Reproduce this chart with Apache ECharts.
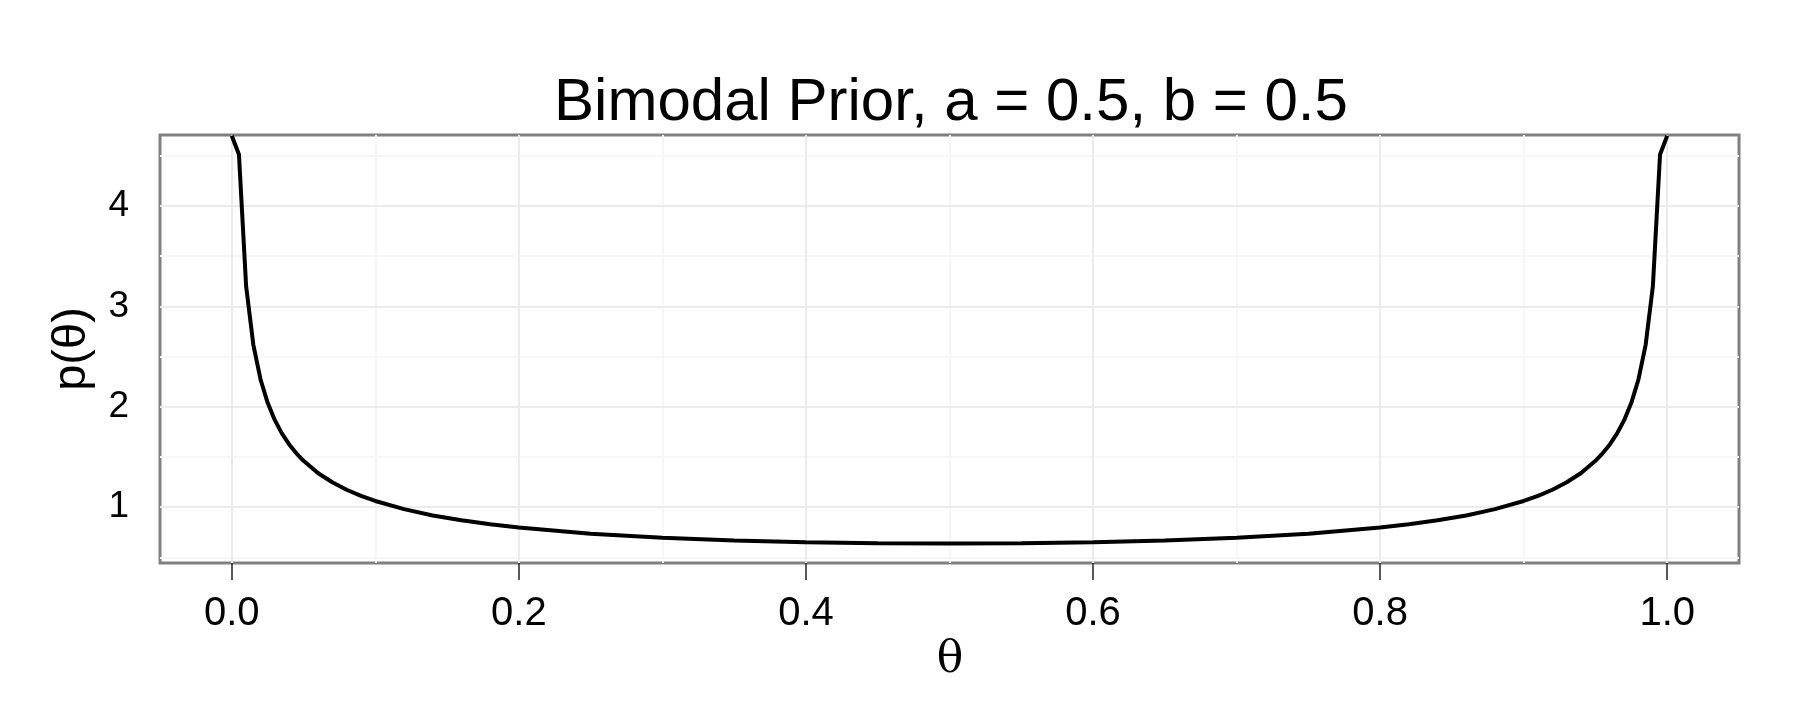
<!DOCTYPE html>
<html>
<head>
<meta charset="utf-8">
<script src="https://cdn.jsdelivr.net/npm/echarts@6/dist/echarts.min.js"></script>
<style>html,body{margin:0;padding:0;background:#fff}#c{width:1800px;height:720px}</style>
</head>
<body>
<div id="c"></div>
<script>
// theta grid and density values (the ends run off the top of the panel)
const thetaValues = [0, 0.005, 0.01, 0.015, 0.02, 0.025, 0.03, 0.035, 0.04, 0.045, 0.05, 0.06, 0.07, 0.08, 0.09, 0.10, 0.12, 0.14, 0.16, 0.18, 0.20, 0.25, 0.30, 0.35, 0.40, 0.45, 0.50,
  0.55, 0.60, 0.65, 0.70, 0.75, 0.80, 0.82, 0.84, 0.86, 0.88, 0.90, 0.91, 0.92, 0.93, 0.94, 0.95, 0.955, 0.96, 0.965, 0.97, 0.975, 0.98, 0.985, 0.99, 0.995, 1.0];
const densityValues = [4.70, 4.513, 3.199, 2.619, 2.274, 2.039, 1.866, 1.732, 1.624, 1.536, 1.461, 1.340, 1.248, 1.173, 1.112, 1.061, 0.980, 0.917, 0.868, 0.829, 0.796, 0.735, 0.695, 0.667, 0.650, 0.640, 0.637,
  0.640, 0.650, 0.667, 0.695, 0.735, 0.796, 0.829, 0.868, 0.917, 0.980, 1.061, 1.112, 1.173, 1.248, 1.340, 1.461, 1.536, 1.624, 1.732, 1.866, 2.039, 2.274, 2.619, 3.199, 4.513, 4.70];
const xTickValues = [0, 0.2, 0.4, 0.6, 0.8, 1.0];
const xTickLabels = ['0.0', '0.2', '0.4', '0.6', '0.8', '1.0'];
const xMinorValues = [0.1, 0.3, 0.5, 0.7, 0.9];
const yTickValues = [1, 2, 3, 4];
const yMinorValues = [0.5, 1.5, 2.5, 3.5, 4.5];
const chartTitle = 'Bimodal Prior, a = 0.5, b = 0.5';

const points = thetaValues.map((t, i) => [t, densityValues[i]]);
const chart = echarts.init(document.getElementById('c'), null, {renderer: 'canvas'});

const gridLineSeries = (xs, ys, color, z) => ({
  type: 'line', data: [], silent: true, z: z,
  markLine: {
    silent: true, symbol: 'none', animation: false,
    label: {show: false},
    lineStyle: {color: color, width: 2, type: 'solid'},
    data: xs.map(v => ({xAxis: v})).concat(ys.map(v => ({yAxis: v})))
  }
});

chart.setOption({
  animation: false,
  backgroundColor: '#ffffff',
  title: {
    text: chartTitle, left: 946, top: 68, textAlign: 'center',
    textStyle: {fontFamily: 'Liberation Sans', fontWeight: 'normal', fontSize: 60, color: '#000'}
  },
  grid: {left: 160, right: 61, top: 135, bottom: 157, show: true, borderColor: '#808080', borderWidth: 3, backgroundColor: '#fff'},
  xAxis: {
    type: 'value', min: -0.05, max: 1.05,
    axisLine: {show: false},
    axisTick: {show: true, length: 17, lineStyle: {color: '#222', width: 1.5}, customValues: xTickValues},
    axisLabel: {show: true, margin: 31, fontFamily: 'Liberation Sans', fontSize: 40, color: '#000',
      customValues: xTickValues,
      formatter: v => { const i = xTickValues.findIndex(t => Math.abs(t - v) < 1e-9); return i >= 0 ? xTickLabels[i] : ''; }},
    splitLine: {show: false}
  },
  yAxis: {
    type: 'value', min: 0.443, max: 4.707,
    axisLine: {show: false},
    axisTick: {show: true, length: 17, lineStyle: {color: '#222', width: 1.5}, customValues: yTickValues},
    axisLabel: {show: true, margin: 31, fontFamily: 'Liberation Sans', fontSize: 37, color: '#000',
      customValues: yTickValues, formatter: v => String(v)},
    splitLine: {show: false}
  },
  graphic: [
    {type: 'text', x: 950, y: 661, style: {text: 'θ', font: '44px "DejaVu Serif"', fill: '#000', textAlign: 'center', textVerticalAlign: 'middle'}},
    {type: 'text', x: 72, y: 349, rotation: Math.PI / 2, style: {text: 'p(θ)', font: '47px "Liberation Sans"', fill: '#000', textAlign: 'center', textVerticalAlign: 'middle'}}
  ],
  series: [
    gridLineSeries(xMinorValues, yMinorValues, '#f6f6f6', 1),
    gridLineSeries(xTickValues, yTickValues, '#ebebeb', 2),
    {
      type: 'line', data: points, z: 5, showSymbol: false, smooth: false, clip: true,
      lineStyle: {color: '#000', width: 4}
    }
  ]
});
</script>
</body>
</html>
